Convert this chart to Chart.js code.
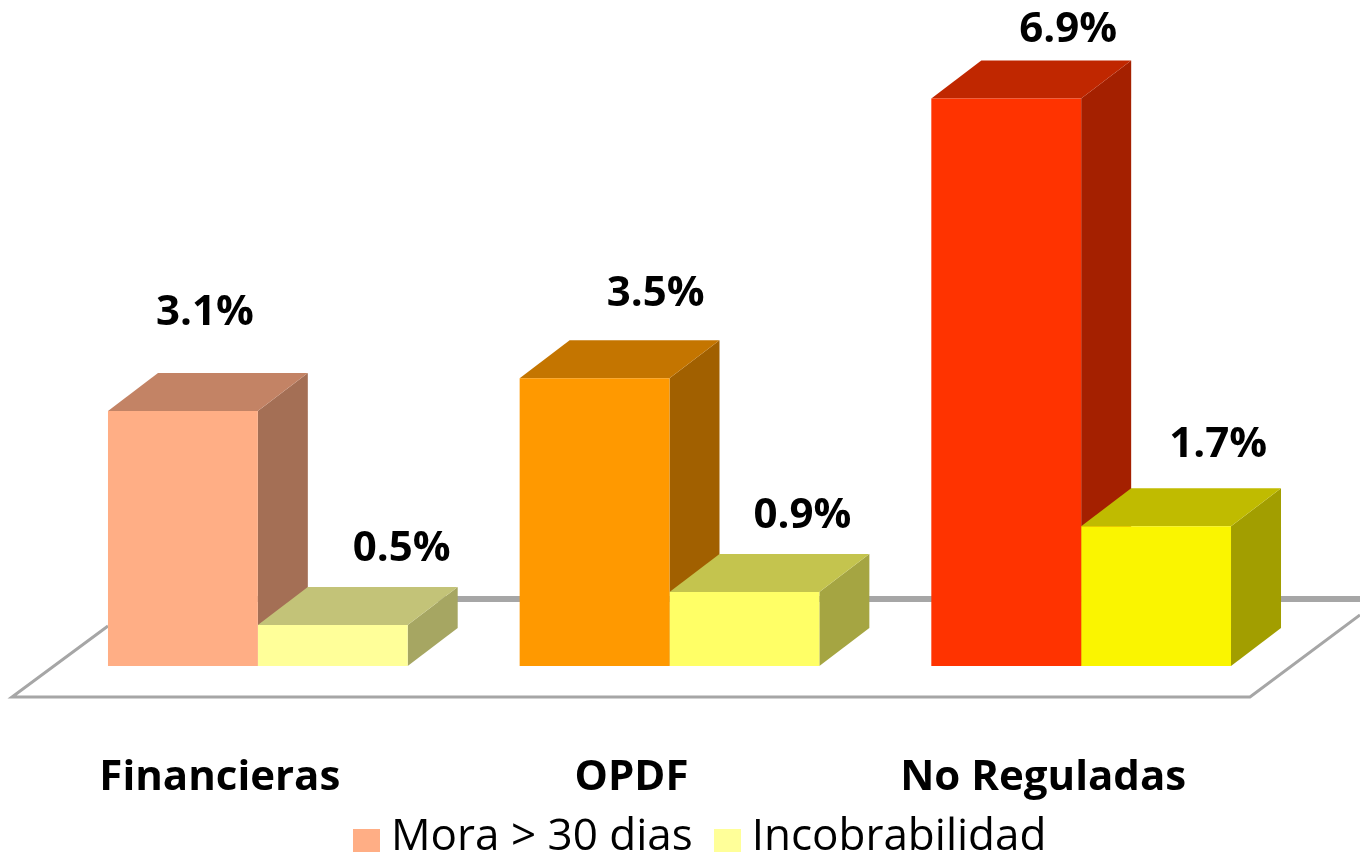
<!DOCTYPE html>
<html>
<head>
<meta charset="utf-8">
<title>Mora e incobrabilidad</title>
<script src="https://cdn.jsdelivr.net/npm/chart.js@4/dist/chart.umd.min.js"></script>
<style>
    html, body { margin: 0; padding: 0; background: #fff; overflow: hidden; }
    canvas { display: block; }
    #wrap { position: relative; width: 1360px; height: 852px; overflow: hidden; }
    #legend { position: absolute; left: 353px; top: 803px; display: flex; align-items: flex-end; white-space: nowrap;
        font: 44px/60px 'Open Sans', sans-serif; color: #000; }
    .legend-dot { display: inline-block; width: 27px; height: 27px; margin: 0 11px 0 0; position: relative; top: -7px; }
    .legend-name { margin-right: 21px; }
</style>
</head>
<body>
<div id="wrap">
    <canvas id="chart" width="1360" height="852"></canvas>
    <div id="legend"></div>
</div>
<script>
const categories = ["Financieras", "OPDF", "No Reguladas"];
const moraValues = [3.1, 3.5, 6.9];
const incobValues = [0.5, 0.9, 1.7];
const seriesNames = ["Mora > 30 dias", "Incobrabilidad"];

// front, top and side colour of every bar
const moraColors = ["#FFAE85", "#FF9900", "#FF3300"];
const moraTop = ["#C38365", "#C47500", "#C02700"];
const moraSide = ["#A46F55", "#A16000", "#A42000"];
const incobColors = ["#FFFF99", "#FFFF66", "#FAF500"];
const incobTop = ["#C3C378", "#C4C44E", "#C0BB00"];
const incobSide = ["#A6A662", "#A5A542", "#A29E00"];

const DEPTH_X = 50;
const DEPTH_Y = 38;
const FONT = "'Open Sans', sans-serif";

function poly(ctx, color, pts) {
    ctx.fillStyle = color;
    ctx.beginPath();
    pts.forEach((p, i) => (i ? ctx.lineTo(p[0], p[1]) : ctx.moveTo(p[0], p[1])));
    ctx.closePath();
    ctx.fill();
}

// floor and the depth faces go under the bars
const floor3d = {
    id: "floor3d",
    beforeDatasetsDraw(chart) {
        const ctx = chart.ctx;
        const base = chart.scales.y.getPixelForValue(0);
        ctx.save();
        ctx.strokeStyle = "#A6A6A6";
        ctx.lineWidth = 6;
        ctx.beginPath();
        ctx.moveTo(chart.chartArea.left + 100, base - 67);
        ctx.lineTo(chart.width, base - 67);
        ctx.stroke();
        ctx.lineWidth = 3;
        ctx.beginPath();
        ctx.moveTo(chart.chartArea.left + 56, base - 40);
        ctx.lineTo(12, base + 31);
        ctx.lineTo(1250, base + 31);
        ctx.lineTo(chart.width, base - 51);
        ctx.stroke();

        [[moraTop, moraSide], [incobTop, incobSide]].forEach(([tops, sides], d) => {
            chart.getDatasetMeta(d).data.forEach((bar, i) => {
                const half = bar.width / 2;
                const l = bar.x - half;
                const r = bar.x + half;
                poly(ctx, sides[i], [[r, bar.y], [r + DEPTH_X, bar.y - DEPTH_Y], [r + DEPTH_X, base - DEPTH_Y], [r, base]]);
                poly(ctx, tops[i], [[l, bar.y], [l + DEPTH_X, bar.y - DEPTH_Y], [r + DEPTH_X, bar.y - DEPTH_Y], [r, bar.y]]);
            });
        });
        ctx.restore();
    },
    afterDatasetsDraw(chart) {
        const ctx = chart.ctx;
        ctx.save();
        ctx.font = "700 42px " + FONT;
        ctx.fillStyle = "#000";
        ctx.textAlign = "center";
        ctx.textBaseline = "middle";
        // label shift from the bar's top centre, as placed in the picture
        const shifts = [[[22, -98], [61, -84], [62, -68]], [[69, -76], [58, -76], [62, -81]]];
        [moraValues, incobValues].forEach((vals, d) => {
            chart.getDatasetMeta(d).data.forEach((bar, i) => {
                ctx.fillText(vals[i].toFixed(1) + "%", bar.x + shifts[d][i][0], bar.y + shifts[d][i][1]);
            });
        });
        ctx.restore();
    },
};

new Chart(document.getElementById("chart"), {
    type: "bar",
    data: {
        labels: categories,
        datasets: [
            { label: seriesNames[0], data: moraValues, backgroundColor: moraColors },
            { label: seriesNames[1], data: incobValues, backgroundColor: incobColors },
        ],
    },
    options: {
        responsive: false,
        animation: false,
        layout: { padding: { left: 52, right: 73, top: 8, bottom: 0 } },
        datasets: { bar: { categoryPercentage: 0.728, barPercentage: 1, borderWidth: 0 } },
        plugins: {
            tooltip: { enabled: false },
            legend: { display: false },
        },
        scales: {
            x: {
                grid: { display: false },
                border: { display: false },
                afterFit: (scale) => { scale.height = 186; },
                ticks: {
                    color: "#000",
                    padding: 79,
                    labelOffset: -38,
                    maxRotation: 0,
                    autoSkip: false,
                    font: { family: FONT, size: 42, weight: "700" },
                },
            },
            y: { display: false, min: 0, max: 8 },
        },
    },
    plugins: [floor3d],
});

// legend sits right under the axis labels, with the boxes close to the text
const legend = document.getElementById("legend");
seriesNames.forEach((name, i) => {
    const dot = document.createElement("span");
    dot.className = "legend-dot";
    dot.style.background = (i ? incobColors : moraColors)[0];
    const text = document.createElement("span");
    text.className = "legend-name";
    text.textContent = name;
    legend.append(dot, text);
});
</script>
</body>
</html>
